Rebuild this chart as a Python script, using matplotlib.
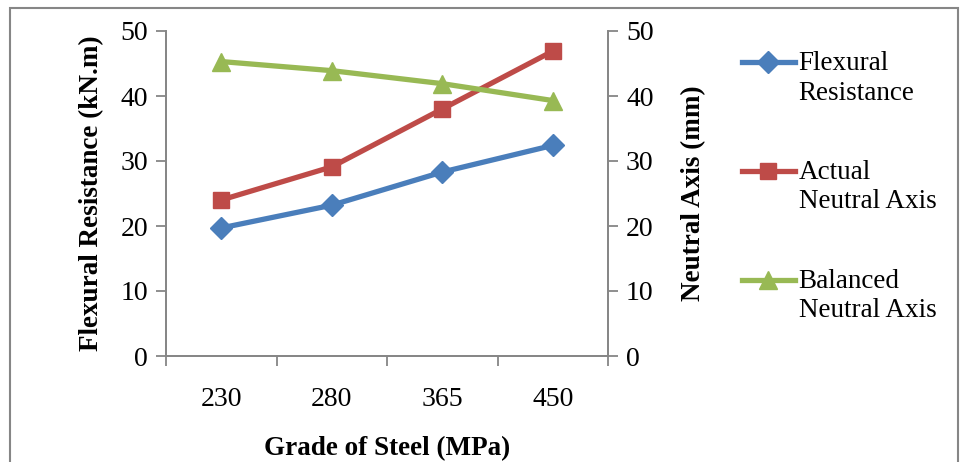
import matplotlib.pyplot as plt
from matplotlib.patches import Rectangle
from matplotlib.legend_handler import HandlerLine2D

grades = ['230', '280', '365', '450']
flexural = [19.7, 23.2, 28.3, 32.4]
actual_na = [24.0, 29.1, 38.0, 46.9]
balanced_na = [45.3, 43.9, 41.9, 39.3]

plt.rcParams['font.family'] = ['Liberation Serif', 'DejaVu Serif']
W, H = 968, 462
fig = plt.figure(figsize=(W / 100, H / 100), dpi=100)

# outer chart border
fig.patches.append(Rectangle((10 / W, -0.05), 948 / W, 1.05 - 8 / H,
                             transform=fig.transFigure, fill=False,
                             edgecolor='#868686', lw=1.5))

ax = fig.add_axes([166 / W, (H - 356) / H, 442 / W, 325 / H])
ax2 = ax.twinx()
x = range(len(grades))
gray = '#868686'

l1, = ax.plot(x, flexural, color='#4a7ebb', lw=3.8, marker='D', ms=11,
              label='Flexural\nResistance')
l2, = ax2.plot(x, actual_na, color='#be4b48', lw=3.8, marker='s', ms=12,
               label='Actual\nNeutral Axis')
l3, = ax2.plot(x, balanced_na, color='#98b954', lw=3.8, marker='^', ms=13,
               label='Balanced\nNeutral Axis')

for a in (ax, ax2):
    a.set_ylim(0, 50)
    a.set_yticks(range(0, 51, 10))
    a.tick_params(axis='y', colors=gray, labelcolor='black', labelsize=20,
                  length=7, width=1.3, pad=6)
    for s in a.spines.values():
        s.set_color(gray)
        s.set_linewidth(1.3)
    a.spines['top'].set_visible(False)

ax.set_xlim(-0.5, 3.5)
ax.set_xticks([i - 0.5 for i in range(5)], minor=False)
ax.set_xticklabels([])
ax.set_xticks(list(x), minor=True)
ax.set_xticklabels(grades, minor=True)
ax.tick_params(axis='x', which='major', colors=gray, length=7, width=1.3)
ax.tick_params(axis='x', which='minor', length=0, labelsize=20, pad=22)

ax.set_xlabel('Grade of Steel (MPa)', fontsize=19.5, fontweight='bold', labelpad=18)
ax.set_ylabel('Flexural Resistance (kN.m)', fontsize=19.5, fontweight='bold', labelpad=12)
ax2.set_ylabel('Neutral Axis (mm)', fontsize=19.5, fontweight='bold', labelpad=20)


class TopHandler(HandlerLine2D):
    # put the legend symbol beside the first line of a two-line label
    def create_artists(self, legend, orig_handle, xdescent, ydescent,
                       width, height, fontsize, trans):
        arts = super().create_artists(legend, orig_handle, xdescent, ydescent,
                                      width, height, fontsize, trans)
        for a in arts:
            a.set_ydata([y + fontsize * 0.6 for y in a.get_ydata()])
        return arts


leg = fig.legend(handles=[l1, l2, l3], loc='upper left',
                 bbox_to_anchor=(731 / W, 1 - 40 / H), frameon=False, fontsize=19.5,
                 handlelength=1.95, handletextpad=0.15, labelspacing=2.0,
                 borderaxespad=0, handler_map={l: TopHandler() for l in (l1, l2, l3)})
for t in leg.get_texts():
    t.set_linespacing(1.25)

fig.savefig('out.png', dpi=100)
